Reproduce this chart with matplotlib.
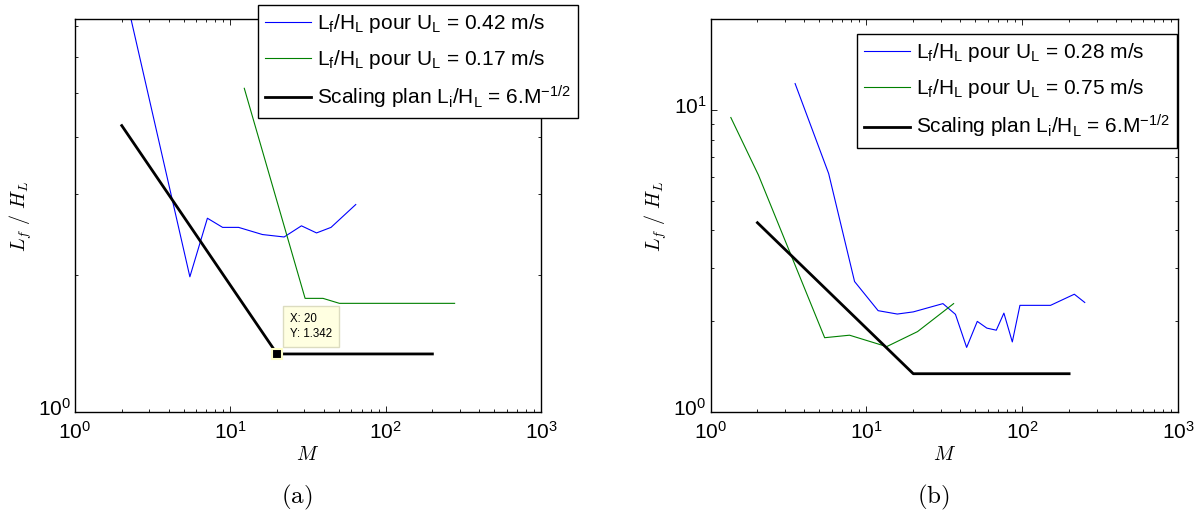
import numpy as np
import matplotlib
matplotlib.use('Agg')
import matplotlib.pyplot as plt
from matplotlib.ticker import LogLocator, NullFormatter
from matplotlib.transforms import ScaledTranslation

plt.rcParams['font.family'] = ['Liberation Sans', 'DejaVu Sans']
plt.rcParams['mathtext.fontset'] = 'custom'
plt.rcParams['mathtext.rm'] = 'Liberation Sans'
plt.rcParams['mathtext.it'] = 'Liberation Sans:italic'
plt.rcParams['mathtext.bf'] = 'Liberation Sans:bold'

# (a) data
m_a_042 = [2.0, 5.49, 7.12, 8.92, 11.3, 16.1, 22.2, 28.7, 35.9, 44.5, 64.2]
lf_a_042 = [8.9, 1.98, 2.66, 2.54, 2.54, 2.45, 2.42, 2.56, 2.47, 2.54, 2.85]
m_a_017 = [12.3, 30.3, 39.5, 50.4, 278]
lf_a_017 = [5.12, 1.776, 1.776, 1.732, 1.732]

# (b) data
m_b_028 = [3.49, 5.73, 8.40, 11.9, 15.8, 20.0, 31.0, 37.3, 44.0, 51.5, 59.3,
           68.2, 76.3, 86.4, 96.7, 152, 216, 252]
lf_b_028 = [12.25, 6.17, 2.71, 2.17, 2.115, 2.15, 2.29, 2.11, 1.64, 2.00, 1.90,
            1.87, 2.13, 1.71, 2.26, 2.26, 2.46, 2.31]
m_b_075 = [1.35, 2.03, 5.4, 7.8, 13.5, 21.3, 36.3]
lf_b_075 = [9.46, 6.1, 1.766, 1.80, 1.65, 1.85, 2.29]

# scaling plan Li/HL = 6.M^-1/2, flat after M = 20
m_scale = [2, 20, 200]
l_scale = [4.243, 1.342, 1.342]

tip_x, tip_y = 20, 1.342

lab_a = ['L$_{\\mathrm{f}}$/H$_{\\mathrm{L}}$ pour U$_{\\mathrm{L}}$ = 0.42 m/s',
         'L$_{\\mathrm{f}}$/H$_{\\mathrm{L}}$ pour U$_{\\mathrm{L}}$ = 0.17 m/s']
lab_b = ['L$_{\\mathrm{f}}$/H$_{\\mathrm{L}}$ pour U$_{\\mathrm{L}}$ = 0.28 m/s',
         'L$_{\\mathrm{f}}$/H$_{\\mathrm{L}}$ pour U$_{\\mathrm{L}}$ = 0.75 m/s']
lab_scale = 'Scaling plan L$_{\\mathrm{i}}$/H$_{\\mathrm{L}}$ = 6.M$^{\\mathrm{-1/2}}$'

BLUE = '#0000ff'
GREEN = '#008000'

fig = plt.figure(figsize=(12, 5.12), dpi=100)
ax1 = fig.add_axes([0.0625, 0.1947, 0.3883, 0.7676])
ax2 = fig.add_axes([0.5921, 0.1947, 0.3896, 0.7676])


def style_axes(ax, ymax):
    ax.set_xscale('log')
    ax.set_yscale('log')
    ax.set_xlim(1, 1000)
    ax.set_ylim(1, ymax)
    ax.xaxis.set_major_locator(LogLocator(base=10, numticks=10))
    ax.xaxis.set_minor_locator(LogLocator(base=10, subs=np.arange(2, 10), numticks=10))
    ax.yaxis.set_minor_locator(LogLocator(base=10, subs=np.arange(2, 10), numticks=10))
    ax.xaxis.set_minor_formatter(NullFormatter())
    ax.yaxis.set_minor_formatter(NullFormatter())
    ax.tick_params(which='both', direction='in', top=True, right=True,
                   labelsize=15, width=0.6)
    ax.tick_params(which='major', length=4.5)
    ax.tick_params(which='minor', length=2.5)
    ax.tick_params(axis='x', which='major', pad=6.5)
    ax.tick_params(axis='y', which='major', pad=3)
    for s in ax.spines.values():
        s.set_linewidth(1.0)
    # digits of y labels sit on the tick, exponent above (MATLAB look)
    shift = ScaledTranslation(0, 4 / 72, fig.dpi_scale_trans)
    for lab in ax.get_yticklabels():
        lab.set_transform(lab.get_transform() + shift)
    ax.set_xlabel('$M$', fontsize=14.5, math_fontfamily='cm', labelpad=1)
    ax.set_ylabel('$L_f\\ /\\ H_L$', fontsize=14.5, math_fontfamily='cm', labelpad=3)


def add_legend(ax, anchor):
    leg = ax.legend(loc='upper left', bbox_to_anchor=anchor,
                    bbox_transform=fig.transFigure, fontsize=15, frameon=True,
                    fancybox=False, framealpha=1, edgecolor='black', borderaxespad=0,
                    handlelength=2.2, handletextpad=0.3, borderpad=0.35,
                    labelspacing=0.62)
    leg.get_frame().set_linewidth(1.0)


# (a)
ax1.plot(m_a_042, lf_a_042, color=BLUE, lw=0.8, label=lab_a[0])
ax1.plot(m_a_017, lf_a_017, color=GREEN, lw=0.8, label=lab_a[1])
ax1.plot(m_scale, l_scale, color='black', lw=2.0, label=lab_scale)
style_axes(ax1, 7.25)
ax1.plot([tip_x], [tip_y], marker='s', ms=7, mfc='black', mec='#ffffc8', mew=1.5,
         zorder=5)
ax1.annotate('X: %g\nY: %.3f' % (tip_x, tip_y), xy=(tip_x, tip_y),
             xytext=(13, 14), textcoords='offset pixels', fontsize=8.3,
             va='bottom', ha='left', linespacing=1.35,
             bbox=dict(boxstyle='square,pad=0.6', fc='#ffffe1', ec='#dcdcc0', lw=1))
add_legend(ax1, (0.215, 0.9908))

# (b)
ax2.plot(m_b_028, lf_b_028, color=BLUE, lw=0.8, label=lab_b[0])
ax2.plot(m_b_075, lf_b_075, color=GREEN, lw=0.8, label=lab_b[1])
ax2.plot(m_scale, l_scale, color='black', lw=2.0, label=lab_scale)
style_axes(ax2, 20)
add_legend(ax2, (0.7138, 0.9336))

fig.text(297 / 1200, 1 - 497 / 512, '$\\mathrm{(a)}$', fontsize=18,
         math_fontfamily='cm', ha='center', va='center')
fig.text(933.5 / 1200, 1 - 497 / 512, '$\\mathrm{(b)}$', fontsize=18,
         math_fontfamily='cm', ha='center', va='center')

fig.savefig('out.png', dpi=100)
